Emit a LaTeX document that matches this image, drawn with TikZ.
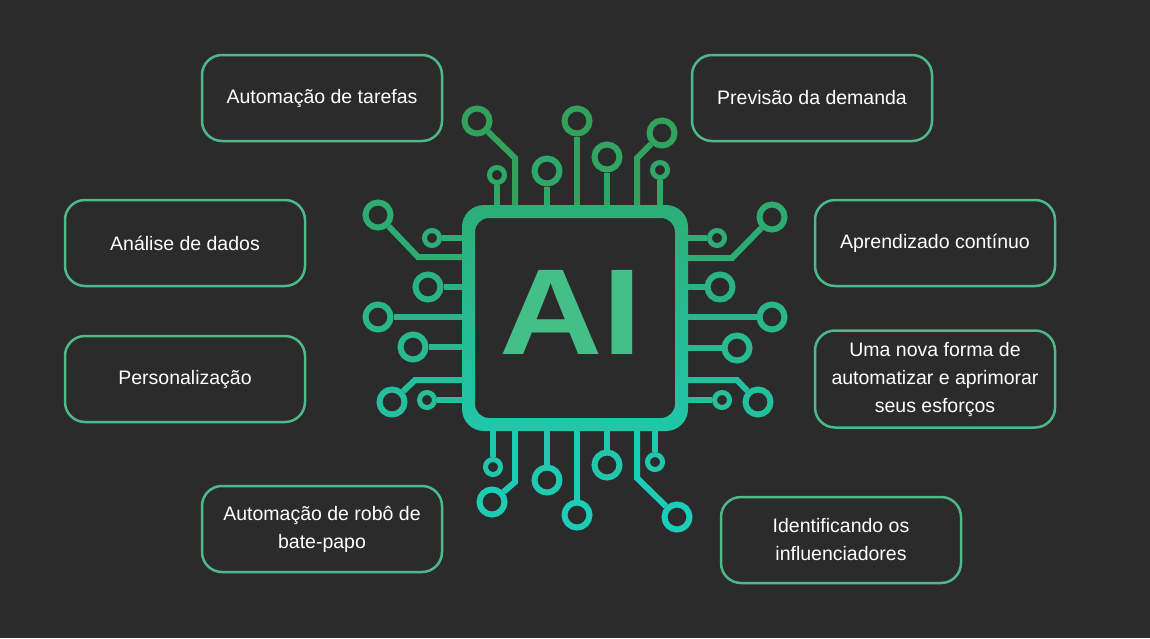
\documentclass[tikz,border=0pt]{standalone}
\usepackage{fontspec}
\setmainfont{Liberation Sans}
\usetikzlibrary{positioning}
\definecolor{bgdark}{HTML}{2B2B2B}
\definecolor{boxline}{HTML}{4DB888}
\definecolor{chiptop}{HTML}{32A15A}
\definecolor{chipbot}{HTML}{1ECDB9}
\definecolor{ailetter}{HTML}{45BF88}

\begin{document}
\begin{tikzpicture}[
    x=1pt, y=-1pt,
    infobox/.style = {rectangle, rounded corners=20pt, draw=boxline, line width=2.5pt,
                      fill=bgdark, text=white, align=center, minimum width=240pt,
                      minimum height=86pt, font=\fontsize{19.5}{28}\selectfont},
    bigpad/.style = {circle, draw, line width=6pt, minimum size=25pt, inner sep=0pt},
    smallpad/.style = {circle, draw, line width=5pt, minimum size=15pt, inner sep=0pt},
    trace/.style = {line width=6pt}
  ]
    \fill[bgdark] (0,0) rectangle (1150,638);

    % boxes around the chip
    \node[infobox] (tasks)  at (322,98)  {Automação de tarefas};
    \node[infobox] (demand) at (812,98)  {Previsão da demanda};
    \node[infobox] (data)   at (185,243) {Análise de dados};
    \node[infobox] (learn)  at (935,243) {Aprendizado contínuo};
    \node[infobox] (person) at (185,379) {Personalização};
    \node[infobox, minimum height=97pt] (effort) at (935,379) {Uma nova forma de\\automatizar e aprimorar\\seus esforços};
    \node[infobox] (chat)   at (322,529) {Automação de robô de\\bate-papo};
    \node[infobox] (infl)   at (841,540) {Identificando os\\influenciadores};

    % straight pads: x, y of pin start, pad position, style
    \foreach \sx/\sy/\px/\py/\kind [count=\i] in {
        497/211/497/175/smallpad, 547/211/547/171/bigpad, 577/211/577/121/bigpad,
        607/211/607/157/bigpad, 660/211/660/170/smallpad,
        493/424/493/467/smallpad, 547/424/547/480/bigpad, 577/424/577/515/bigpad,
        607/424/607/465/bigpad, 655/424/655/462/smallpad,
        469/238/432/238/smallpad, 469/287/428/287/bigpad, 469/317/378/317/bigpad,
        469/347/413/347/bigpad, 469/400/427/400/smallpad,
        681/238/717/238/smallpad, 681/287/720/287/bigpad, 681/317/772/317/bigpad,
        681/348/737/348/bigpad, 681/400/722/400/smallpad} {
      \pgfmathtruncatemacro\mixval{max(0,min(100,(520-\py)/4))}
      \node[\kind, draw=chiptop!\mixval!chipbot] (pad\i) at (\px,\py) {};
      \draw[trace, chiptop!\mixval!chipbot] (\sx,\sy) -- (pad\i);
    }

    % bent pads: start, bend, pad
    \foreach \sx/\sy/\bx/\by/\px/\py [count=\i] in {
        515/211/515/158/477/121, 637/211/637/158/662/133,
        515/424/515/482/492/502, 637/424/637/478/677/517,
        469/257/418/257/378/215, 469/380/415/380/392/402,
        681/258/732/258/772/217, 681/380/737/380/758/402} {
      \pgfmathtruncatemacro\mixval{max(0,min(100,(520-\py)/4))}
      \node[bigpad, draw=chiptop!\mixval!chipbot] (bend\i) at (\px,\py) {};
      \draw[trace, chiptop!\mixval!chipbot] (\sx,\sy) -- (\bx,\by) -- (bend\i);
    }

    % chip frame
    \shade[top color=chiptop!70!chipbot, bottom color=chipbot!85!chiptop, even odd rule]
      [rounded corners=22pt] (462,205) rectangle (688,431)
      [rounded corners=14pt] (475,218) rectangle (675,418);
    \node[text=ailetter, font=\bfseries\fontsize{130}{130}\selectfont, inner sep=0pt,
          xscale=1.1, yscale=0.94]
      (ai) at (571,312) {AI};
  \end{tikzpicture}
\end{document}
